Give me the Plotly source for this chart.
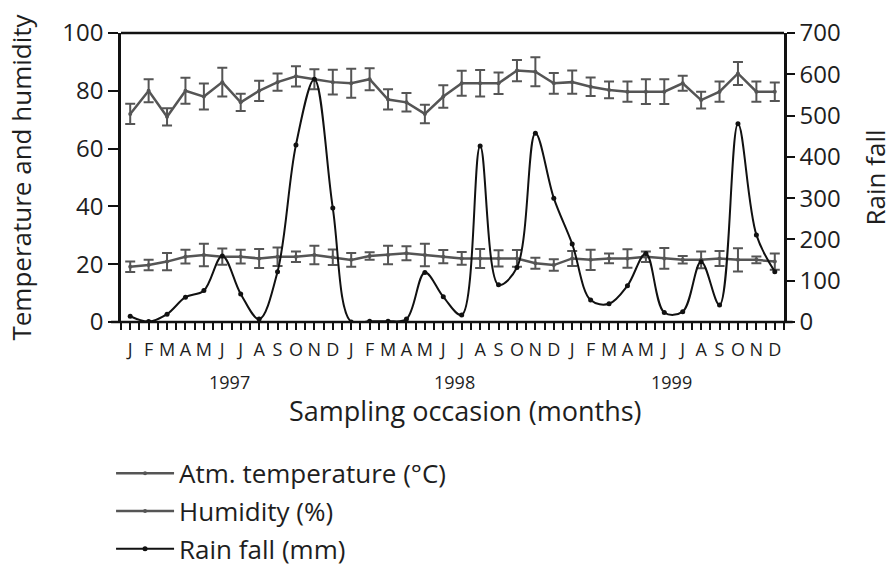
import plotly.graph_objects as go

# Monthly sampling occasions, Jan 1997 - Dec 1999
month_letters = ["J", "F", "M", "A", "M", "J", "J", "A", "S", "O", "N", "D"] * 3
years = ["1997", "1998", "1999"]

humidity = [72, 80, 71, 80, 78, 83, 76, 80, 83, 85, 84, 83,
            82.6, 84, 77, 76, 72, 78, 82.6, 82.6, 82.6, 87, 86.6, 82.6,
            83, 81.4, 80.3, 79.7, 79.7, 79.7, 82.6, 76.8, 79.7, 86, 79.7, 79.7]
humidity_err = [3.5, 4, 3, 4.5, 4.5, 5, 3, 3.5, 3, 3.5, 3.5, 4.3,
                5, 3.8, 3.5, 3.2, 3.2, 3.9, 4.3, 4.6, 3.7, 3.7, 5, 3.6,
                4, 3.2, 2.9, 3.5, 4.3, 4.3, 2.6, 2.9, 3.5, 4, 3.5, 3.2]

temperature = [19.1, 19.7, 20.9, 22.6, 23.2, 22.6, 22.6, 22, 22.6, 22.6, 23.2, 22.4,
               21.5, 22.8, 23.2, 23.8, 23.2, 22.6, 22, 22, 22, 22, 20.3, 19.7,
               22, 21.5, 22, 22, 22.6, 22, 21.5, 21.5, 22, 21.5, 21.5, 20.9]
temperature_err = [1.8, 1.8, 3, 2.4, 3.9, 2.8, 2.4, 3.3, 3.2, 1.8, 3.2, 2.7,
                   2.4, 1.3, 3.2, 2.4, 3.9, 2.3, 2.2, 3.3, 2.8, 2.9, 1.9, 2,
                   2.6, 3.5, 1.7, 3.2, 1.8, 3.6, 1.3, 2.9, 2.6, 4, 1.2, 2.8]

rainfall = [14, 1, 19, 60, 76, 160, 68, 7, 122, 429, 588, 276,
            0, 2, 2, 7, 120, 61, 17, 426, 90, 132, 457, 300,
            189, 53, 44, 88, 166, 23, 25, 146, 41, 480, 211, 122]

x = list(range(len(month_letters)))

GRAY = "#555555"
INK = "#1e1e1e"
FONT = "Open Sans"

fig = go.Figure()

fig.add_trace(go.Scatter(
    x=x, y=temperature, name="Atm. temperature (°C)", mode="lines+markers",
    line=dict(color=GRAY, width=2.5), marker=dict(size=4, color=GRAY),
    error_y=dict(type="data", array=temperature_err, color=GRAY, thickness=2, width=5),
    legendgroup="t",
))
fig.add_trace(go.Scatter(
    x=x, y=humidity, name="Humidity (%)", mode="lines+markers",
    line=dict(color=GRAY, width=2.5), marker=dict(size=4, color=GRAY),
    error_y=dict(type="data", array=humidity_err, color=GRAY, thickness=2, width=5),
    legendgroup="h",
))
fig.add_trace(go.Scatter(
    x=x, y=rainfall, name="Rain fall (mm)", mode="lines+markers", yaxis="y2",
    line=dict(color="#111111", width=2, shape="spline", smoothing=1.0),
    marker=dict(size=5, color="#111111"),
    legendgroup="r",
))

# tick marks every half month, labels on the months
tickvals = [i / 2 - 0.5 for i in range(73)]
ticktext = [month_letters[int(v)] if v == int(v) and v >= 0 else "" for v in tickvals]

fig.update_layout(
    width=894, height=567,
    margin=dict(l=121, r=110, t=33, b=245, autoexpand=False),
    plot_bgcolor="white", paper_bgcolor="white",
    font=dict(family=FONT, color=INK),
    xaxis=dict(
        range=[-0.5, 35.5], tickmode="array", tickvals=tickvals, ticktext=ticktext,
        ticks="outside", ticklen=7, tickwidth=1.5, tickcolor="#111",
        tickfont=dict(size=18, family=FONT), tickangle=0, ticklabelstandoff=4,
        showline=False, showgrid=False, zeroline=False, automargin=False,
    ),
    yaxis=dict(
        range=[0, 100], dtick=20, ticks="outside", ticklen=10, tickwidth=2, tickcolor="#111",
        showline=True, linecolor="#111", linewidth=2.5, mirror=False,
        showgrid=False, zeroline=False, automargin=False,
        tickfont=dict(size=24, family=FONT),
        title=dict(text="Temperature and humidity", font=dict(size=26, family=FONT), standoff=24),
    ),
    yaxis2=dict(
        range=[0, 700], dtick=100, overlaying="y", side="right",
        ticks="outside", ticklen=8, tickwidth=2, tickcolor="#111",
        showline=True, linecolor="#111", linewidth=2.5,
        showgrid=False, zeroline=False, automargin=False,
        tickfont=dict(size=24, family=FONT),
        title=dict(text="Rain fall", font=dict(size=26, family=FONT), standoff=28),
    ),
    showlegend=True,
    legend=dict(
        x=-0.015, y=-0.442, xanchor="left", yanchor="top",
        font=dict(size=26, family=FONT, color=INK),
        traceorder="grouped", tracegroupgap=1, itemwidth=58,
        bgcolor="rgba(0,0,0,0)",
    ),
)

# top frame line and bottom axis line extending slightly past the plot
fig.add_shape(type="line", xref="paper", yref="paper", x0=0, x1=1, y0=1, y1=1,
              line=dict(color="#111", width=2.5))
fig.add_shape(type="line", xref="paper", yref="paper", x0=-0.015, x1=1.013, y0=0, y1=0,
              line=dict(color="#111", width=2.5))

# year labels under the month letters
for pos, yr in zip([5.4, 17.6, 29.4], years):
    fig.add_annotation(x=pos, y=-0.16, xref="x", yref="paper", text=yr, showarrow=False,
                       font=dict(size=18, family=FONT, color=INK), yanchor="top")

fig.add_annotation(x=0.52, y=-0.235, xref="paper", yref="paper",
                   text="Sampling occasion (months)", showarrow=False,
                   font=dict(size=27, family=FONT, color=INK), yanchor="top")

fig.write_html("out.html")
